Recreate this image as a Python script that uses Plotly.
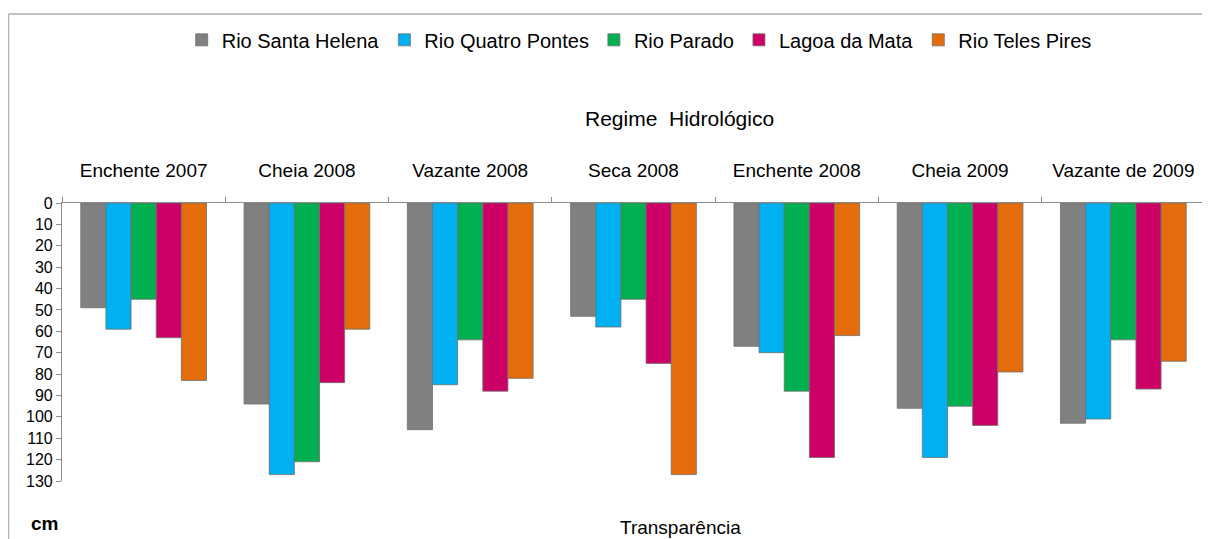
import plotly.graph_objects as go

# periods of the hydrological regime
periodos = ['Enchente 2007', 'Cheia 2008', 'Vazante 2008', 'Seca 2008',
            'Enchente 2008', 'Cheia 2009', 'Vazante de 2009']

# transparency (cm) per site
santa_helena = [49, 94, 106, 53, 67, 96, 103]
quatro_pontes = [59, 127, 85, 58, 70, 119, 101]
parado = [45, 121, 64, 45, 88, 95, 64]
lagoa_mata = [63, 84, 88, 75, 119, 104, 87]
teles_pires = [83, 59, 82, 127, 62, 79, 74]

series = [('Rio Santa Helena', santa_helena, '#808080'),
          ('Rio Quatro Pontes', quatro_pontes, '#00B0F0'),
          ('Rio Parado', parado, '#00B050'),
          ('Lagoa da Mata', lagoa_mata, '#CC0066'),
          ('Rio Teles Pires', teles_pires, '#E46C0A')]

fig = go.Figure()
for nome, vals, cor in series:
    fig.add_trace(go.Bar(x=periodos, y=vals, name=nome, marker_color=cor,
                         marker_line=dict(color='#6f6f6f', width=0.8)))

# page body has an 8px margin, so the figure is a bit smaller than the window
fig.update_layout(
    width=1202, height=531,
    margin=dict(l=54, r=5, t=195, b=58),
    paper_bgcolor='white', plot_bgcolor='white',
    font=dict(family='Liberation Sans, Arial', size=15, color='black'),
    barmode='group', bargap=0.23, bargroupgap=0,
    legend=dict(orientation='h', x=0.505, xanchor='center', y=0.94, yanchor='middle',
                yref='container', font=dict(size=20), traceorder='normal',
                itemwidth=30, tracegroupgap=0),
    showlegend=True,
)

fig.update_xaxes(side='top', showline=True, linecolor='#8c8c8c', linewidth=1.2,
                 ticks='outside', tickcolor='#8c8c8c', ticklen=5, tickson='boundaries',
                 ticklabelstandoff=17, showgrid=False, tickfont=dict(size=19))
fig.update_yaxes(range=[130, 0], tickmode='linear', tick0=0, dtick=10,
                 showline=True, linecolor='#8c8c8c', linewidth=1.2,
                 ticks='outside', tickcolor='#8c8c8c', ticklen=5,
                 showgrid=False, zeroline=False, tickfont=dict(size=16))

fig.add_annotation(text='Regime  Hidrológico', xref='paper', yref='paper',
                   x=0.54, y=1.0, yshift=85, xanchor='center', yanchor='middle',
                   showarrow=False, font=dict(size=21))
fig.add_annotation(text='<b>cm</b>', xref='paper', yref='paper',
                   x=-0.0149, y=0, yshift=-42, xanchor='center', yanchor='middle',
                   showarrow=False, font=dict(size=19))
fig.add_annotation(text='Transparência', xref='paper', yref='paper',
                   x=0.5407, y=0, yshift=-46, xanchor='center', yanchor='middle',
                   showarrow=False, font=dict(size=19))

# frame lines (top and left) like the original picture
fig.add_shape(type='line', xref='paper', yref='paper', x0=-0.0468, x1=1.01,
              y0=1.68, y1=1.68, line=dict(color='#b0b0b0', width=1.5))
fig.add_shape(type='line', xref='paper', yref='paper', x0=-0.0468, x1=-0.0468,
              y0=1.68, y1=-0.21, line=dict(color='#b0b0b0', width=1.5))

fig.write_html("out.html")
